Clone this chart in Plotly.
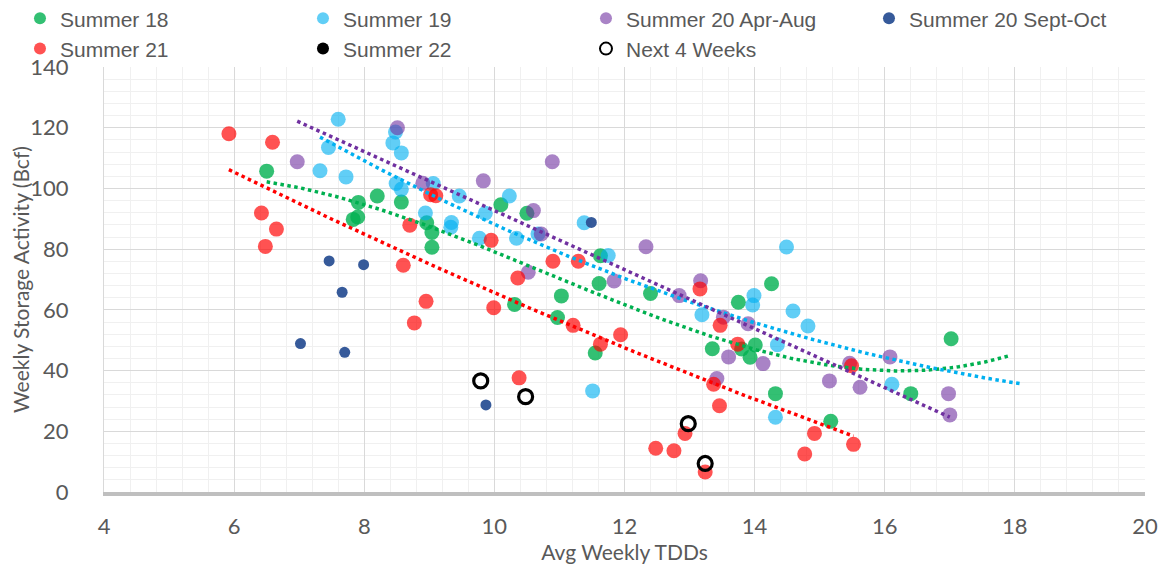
import numpy as np
import plotly.graph_objects as go

# ---------------- data ----------------
s18_x = [6.50, 7.83, 7.90, 7.91, 8.20, 8.57, 8.96, 9.04, 9.04, 10.10, 10.50, 10.31, 10.97, 11.03,
         11.55, 11.61, 11.63, 12.40, 13.35, 13.75, 13.80, 13.93, 14.01, 14.26, 14.32, 15.17, 16.40, 17.02]
s18_y = [105.7, 89.8, 90.6, 95.4, 97.5, 95.5, 88.7, 85.5, 80.6, 94.6, 91.8, 61.8, 57.5, 64.6,
         45.8, 68.7, 77.8, 65.4, 47.2, 62.5, 47.1, 44.4, 48.4, 68.6, 32.4, 23.3, 32.4, 50.5]

s19_x = [7.60, 7.45, 7.32, 7.72, 8.48, 8.44, 8.57, 8.49, 8.57, 9.06, 8.94, 9.34, 9.33, 9.46, 9.86,
         9.77, 10.23, 10.34, 10.67, 11.38, 11.75, 11.51, 13.19, 13.99, 13.97, 14.49, 14.59, 14.82,
         14.35, 14.32, 16.11]
s19_y = [122.8, 113.5, 105.8, 103.8, 118.6, 115.0, 111.7, 101.6, 99.7, 101.6, 91.9, 88.8, 87.2, 97.5, 91.8,
         83.6, 97.5, 83.6, 85.0, 88.7, 77.9, 33.3, 58.4, 64.7, 61.6, 80.7, 59.6, 54.7,
         48.5, 24.6, 35.5]

s20a_x = [6.97, 8.51, 8.90, 9.83, 10.89, 10.60, 10.72, 10.52, 12.33, 11.84, 13.17, 12.84, 13.52,
          13.90, 13.60, 14.13, 13.42, 15.46, 15.15, 15.62, 16.08, 16.98, 17.00]
s20a_y = [108.8, 120.0, 101.7, 102.5, 108.8, 92.7, 85.0, 72.4, 80.8, 69.5, 69.6, 64.7, 57.6,
          55.4, 44.5, 42.3, 37.4, 42.4, 36.6, 34.5, 44.5, 32.4, 25.4]

s20b_x = [7.46, 7.99, 7.66, 7.02, 7.70, 9.87, 11.49]
s20b_y = [76.1, 74.9, 65.8, 48.9, 46.0, 28.7, 88.8]

s21_x = [5.92, 6.59, 6.42, 6.65, 6.48, 9.02, 9.10, 8.70, 8.60, 8.95, 8.77, 9.95, 9.99, 10.36, 10.90,
         11.29, 10.38, 11.21, 11.63, 11.94, 13.16, 13.47, 13.74, 13.37, 13.46, 12.93, 12.48, 12.76,
         13.24, 14.77, 14.92, 15.52, 15.49]
s21_y = [118.0, 115.2, 91.9, 86.6, 80.9, 97.9, 97.6, 87.9, 74.7, 62.8, 55.7, 82.9, 60.7, 70.5, 76.0,
         76.0, 37.6, 54.9, 48.7, 51.8, 66.9, 54.9, 48.7, 35.5, 28.4, 19.3, 14.4, 13.6,
         6.6, 12.5, 19.3, 15.7, 41.6]

# Summer 22: no visible points in the reference (legend entry only)
s22_x = [None]
s22_y = [None]

next4_x = [9.79, 10.48, 12.98, 13.24]
next4_y = [36.6, 31.4, 22.5, 9.4]

# trendline settings per series: (polynomial order, forward forecast in x units)
trend_s18 = (3, 0.92)
trend_s19 = (2, 2.0)
trend_s20a = (1, 0.0)
trend_s21 = (2, 0.0)

x_ticks = [4, 6, 8, 10, 12, 14, 16, 18, 20]
y_ticks = [0, 20, 40, 60, 80, 100, 120, 140]

# ---------------- figure ----------------
fig = go.Figure()

def pts(name, xs, ys, color, size, show=True):
    fig.add_trace(go.Scatter(
        x=xs, y=ys, mode="markers", name=name, showlegend=show,
        marker=dict(color=color, size=size, line=dict(width=0)),
        hoverinfo="x+y+name"))

pts("Summer 18", s18_x, s18_y, "rgba(0,176,80,0.80)", 15)
pts("Summer 19", s19_x, s19_y, "rgba(0,176,240,0.62)", 15)
pts("Summer 20 Apr-Aug", s20a_x, s20a_y, "rgba(112,48,160,0.60)", 15)
pts("Summer 20 Sept-Oct", s20b_x, s20b_y, "rgba(47,85,151,0.97)", 11)
pts("Summer 21", s21_x, s21_y, "rgba(255,0,0,0.68)", 15)
pts("Summer 22", s22_x, s22_y, "#000000", 11)

def trend(xs, ys, spec, color):
    order, fwd = spec
    xa = np.array(xs)
    ya = np.array(ys)
    coef = np.polyfit(xa, ya, order)
    tx = np.linspace(xa.min(), xa.max() + fwd, 200)
    ty = np.polyval(coef, tx)
    fig.add_trace(go.Scatter(x=tx, y=ty, mode="lines", showlegend=False, hoverinfo="skip",
                             line=dict(color=color, width=3.5, dash="dot")))

trend(s18_x, s18_y, trend_s18, "#00B050")
trend(s19_x, s19_y, trend_s19, "#00B0F0")
trend(s20a_x, s20a_y, trend_s20a, "#7030A0")
trend(s21_x, s21_y, trend_s21, "#FF0000")

fig.add_trace(go.Scatter(
    x=next4_x, y=next4_y, mode="markers", name="Next 4 Weeks",
    marker=dict(symbol="circle-open", color="#000000", size=14, line=dict(width=3.2, color="#000000"))))

tick_font = dict(family="Lato, Calibri, Carlito, sans-serif", size=22, color="#595959")
title_font = dict(family="Lato, Calibri, sans-serif", size=21, color="#595959")

fig.update_layout(
    width=1154, height=556,
    margin=dict(l=96, r=17, t=59, b=71.5, autoexpand=False),
    paper_bgcolor="white", plot_bgcolor="white",
    showlegend=True,
    legend=dict(
        orientation="h", x=-0.0807, xanchor="left", y=1.162, yanchor="top",
        font=dict(family="Liberation Sans, Arial, sans-serif", size=21, color="#595959"),
        entrywidth=238, entrywidthmode="pixels", itemsizing="constant",
        traceorder="normal", bgcolor="rgba(0,0,0,0)",
    ),
    xaxis=dict(
        range=[4, 20], tickvals=x_ticks, ticktext=[str(v) for v in x_ticks],
        showgrid=True, gridcolor="#D9D9D9", gridwidth=1,
        minor=dict(dtick=0.4, tick0=4, showgrid=True, gridcolor="#F0F0F0", gridwidth=1),
        showline=True, linecolor="#BFBFBF", linewidth=4,
        zeroline=False, ticks="", tickfont=tick_font, ticklabelstandoff=12,
        title=dict(text="Avg Weekly TDDs", font=title_font, standoff=4),
        automargin=False, fixedrange=True,
    ),
    yaxis=dict(
        range=[0, 140], tickvals=y_ticks, ticktext=[str(v) for v in y_ticks],
        showgrid=True, gridcolor="#D9D9D9", gridwidth=1,
        minor=dict(dtick=4, tick0=0, showgrid=True, gridcolor="#F0F0F0", gridwidth=1),
        showline=True, linecolor="#D9D9D9", linewidth=1, mirror=False,
        zeroline=False, ticks="", tickfont=tick_font, ticklabelstandoff=30,
        title=dict(text="Weekly Storage Activity (Bcf)", font=title_font, standoff=0),
        automargin=False, fixedrange=True,
    ),
)

fig.write_html("out.html")
